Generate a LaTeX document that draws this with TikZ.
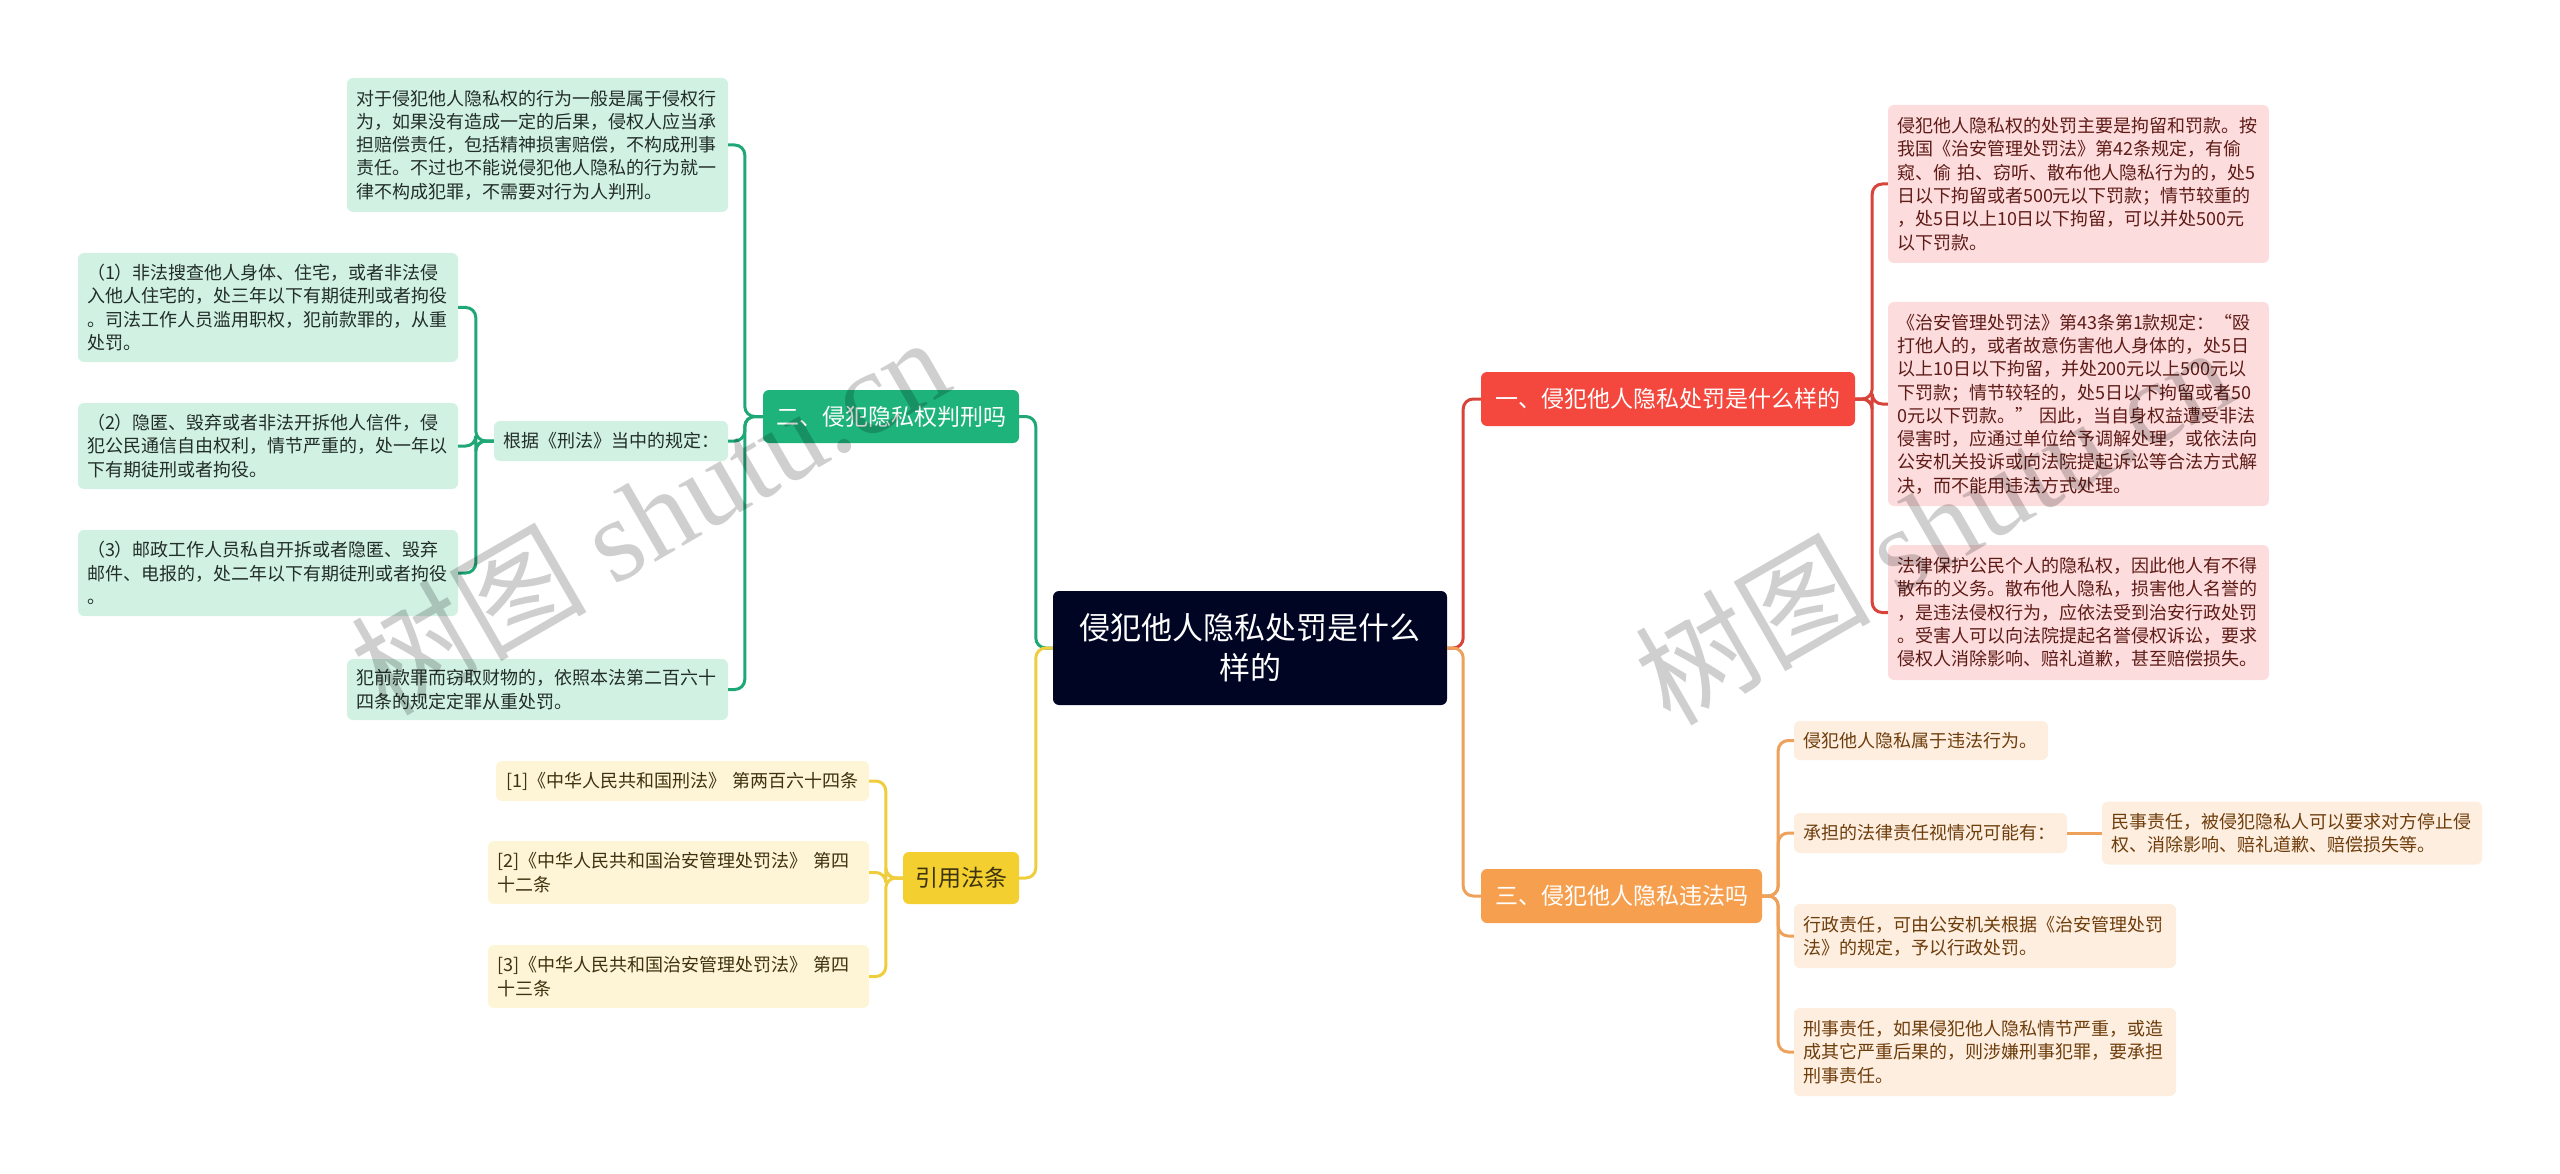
\documentclass[tikz,border=0pt]{standalone}
\usepackage{fontspec}
\setmainfont{Noto Sans CJK SC}
\newfontfamily\wmlatin{Liberation Serif}
\definecolor{navy}{HTML}{000524}
\definecolor{redB}{HTML}{F4473D}
\definecolor{redL}{HTML}{FCDCDC}
\definecolor{redT}{HTML}{5E1B17}
\definecolor{redLine}{HTML}{D8443A}
\definecolor{orB}{HTML}{F6A04F}
\definecolor{orL}{HTML}{FDEEDF}
\definecolor{orT}{HTML}{6E3D0C}
\definecolor{orLine}{HTML}{EDA15B}
\definecolor{grB}{HTML}{1DB37A}
\definecolor{grL}{HTML}{D1F1E3}
\definecolor{grT}{HTML}{222E28}
\definecolor{grLine}{HTML}{1FA876}
\definecolor{yeB}{HTML}{F3D02F}
\definecolor{yeL}{HTML}{FDF5D5}
\definecolor{yeT}{HTML}{3E3310}
\definecolor{yeLine}{HTML}{EFCD3C}
\tikzset{
  leaf/.style={rounded corners=6pt, inner xsep=9pt, inner ysep=3pt, align=left,
    font=\fontsize{18}{23.3}\selectfont, anchor=center},
  rleaf/.style={leaf, fill=redL, text=redT},
  oleaf/.style={leaf, fill=orL, text=orT},
  gleaf/.style={leaf, fill=grL, text=grT},
  yleaf/.style={leaf, fill=yeL, text=yeT},
  branch/.style={rounded corners=6pt, inner sep=0pt, align=center,
    font=\fontsize{23}{28}\selectfont, anchor=center},
  conn/.style={line width=3pt, rounded corners=10pt},
  wm/.style={text=black, opacity=0.19, rotate=30, anchor=center,
    font=\fontsize{118}{120}\selectfont}
}
\begin{document}
\begin{tikzpicture}[x=1pt, y=-1pt]
\useasboundingbox (0,0) rectangle (2560,1174);
% central
\node[rounded corners=6pt, fill=navy, text=white, align=center, inner sep=0pt,
  minimum width=394pt, minimum height=114pt,
  font=\fontsize{31}{40}\selectfont] (c) at (1250,648) {侵犯他人隐私处罚是什么\\样的};
% branches
\node[branch, fill=redB, text=white, minimum width=374pt, minimum height=54pt] (b1) at (1668,399) {一、侵犯他人隐私处罚是什么样的};
\node[branch, fill=orB, text=white, minimum width=281pt, minimum height=54pt] (b3) at (1621.5,896) {三、侵犯他人隐私违法吗};
\node[branch, fill=grB, text=white, minimum width=256pt, minimum height=53pt] (b2) at (891,416.5) {二、侵犯隐私权判刑吗};
\node[branch, fill=yeB, text=yeT, minimum width=116pt, minimum height=52pt] (b4) at (961,878) {引用法条};
% red leaves
\node[rleaf, text width=363pt, minimum height=158pt] (r1) at (2078.5,184) {侵犯他人隐私权的处罚主要是拘留和罚款。按\\我国《治安管理处罚法》第42条规定，有偷\\窥、偷 拍、窃听、散布他人隐私行为的，处5\\日以下拘留或者500元以下罚款；情节较重的\\，处5日以上10日以下拘留，可以并处500元\\以下罚款。};
\node[rleaf, text width=363pt, minimum height=204pt] (r2) at (2078.5,404) {《治安管理处罚法》第43条第1款规定：“殴\\打他人的，或者故意伤害他人身体的，处5日\\以上10日以下拘留，并处200元以上500元以\\下罚款；情节较轻的，处5日以下拘留或者50\\0元以下罚款。” 因此，当自身权益遭受非法\\侵害时，应通过单位给予调解处理，或依法向\\公安机关投诉或向法院提起诉讼等合法方式解\\决，而不能用违法方式处理。};
\node[rleaf, text width=363pt, minimum height=135pt] (r3) at (2078.5,612.5) {法律保护公民个人的隐私权，因此他人有不得\\散布的义务。散布他人隐私，损害他人名誉的\\，是违法侵权行为，应依法受到治安行政处罚\\。受害人可以向法院提起名誉侵权诉讼，要求\\侵权人消除影响、赔礼道歉，甚至赔偿损失。};
% orange leaves
\node[oleaf, text width=236pt, minimum height=39pt] (o1) at (1921,740.5) {侵犯他人隐私属于违法行为。};
\node[oleaf, text width=255pt, minimum height=40pt] (o2) at (1930.5,833) {承担的法律责任视情况可能有：};
\node[oleaf, text width=362pt, minimum height=63pt] (o2a) at (2292,833) {民事责任，被侵犯隐私人可以要求对方停止侵\\权、消除影响、赔礼道歉、赔偿损失等。};
\node[oleaf, text width=364pt, minimum height=64pt] (o3) at (1985,936) {行政责任，可由公安机关根据《治安管理处罚\\法》的规定，予以行政处罚。};
\node[oleaf, text width=364pt, minimum height=88pt] (o4) at (1985,1052) {刑事责任，如果侵犯他人隐私情节严重，或造\\成其它严重后果的，则涉嫌刑事犯罪，要承担\\刑事责任。};
% green leaves
\node[gleaf, text width=363pt, minimum height=134pt] (g1) at (537.5,145) {对于侵犯他人隐私权的行为一般是属于侵权行\\为，如果没有造成一定的后果，侵权人应当承\\担赔偿责任，包括精神损害赔偿，不构成刑事\\责任。不过也不能说侵犯他人隐私的行为就一\\律不构成犯罪，不需要对行为人判刑。};
\node[gleaf, text width=216pt, minimum height=40pt] (g2) at (611,441) {根据《刑法》当中的规定：};
\node[gleaf, text width=362pt, minimum height=109pt] (g2a) at (268,307.5) {（1）非法搜查他人身体、住宅，或者非法侵\\入他人住宅的，处三年以下有期徒刑或者拘役\\。司法工作人员滥用职权，犯前款罪的，从重\\处罚。};
\node[gleaf, text width=362pt, minimum height=86pt] (g2b) at (268,446) {（2）隐匿、毁弃或者非法开拆他人信件，侵\\犯公民通信自由权利，情节严重的，处一年以\\下有期徒刑或者拘役。};
\node[gleaf, text width=362pt, minimum height=86pt] (g2c) at (268,573) {（3）邮政工作人员私自开拆或者隐匿、毁弃\\邮件、电报的，处二年以下有期徒刑或者拘役\\。};
\node[gleaf, text width=363pt, minimum height=61pt] (g3) at (537.5,689.5) {犯前款罪而窃取财物的，依照本法第二百六十\\四条的规定定罪从重处罚。};
% yellow leaves
\node[yleaf, text width=353pt, minimum height=40pt, inner xsep=10pt] (y1) at (682.5,781) {[1]《中华人民共和国刑法》 第两百六十四条};
\node[yleaf, text width=363pt, minimum height=63pt] (y2) at (678.5,872.5) {[2]《中华人民共和国治安管理处罚法》 第四\\十二条};
\node[yleaf, text width=363pt, minimum height=63pt] (y3) at (678.5,976.5) {[3]《中华人民共和国治安管理处罚法》 第四\\十三条};
% connectors
\draw[conn, redLine] (c.east) -- ++(16,0) |- (b1.west);
\draw[conn, orLine] (c.east) -- ++(16,0) |- (b3.west);
\draw[conn, grLine] (c.west) -- ++(-17,0) |- (b2.east);
\draw[conn, yeLine] (c.west) -- ++(-17,0) |- (b4.east);
\foreach \t in {r1,r2,r3} \draw[conn, redLine] (b1.east) -- ++(17,0) |- (\t.west);
\foreach \t in {o1,o2,o3,o4} \draw[conn, orLine] (b3.east) -- ++(16,0) |- (\t.west);
\draw[conn, orLine] (o2.east) -- (o2a.west);
\foreach \t in {g1,g2,g3} \draw[conn, grLine] (b2.west) -- ++(-18,0) |- (\t.east);
\foreach \t in {g2a,g2b,g2c} \draw[conn, grLine] (g2.west) -- ++(-18,0) |- (\t.east);
\foreach \t in {y1,y2,y3} \draw[conn, yeLine] (b4.west) -- ++(-17,0) |- (\t.east);
% watermarks
\node[wm] (wm1) at (649,514) {树图 {\wmlatin shutu.cn}};
\node[wm] (wm2) at (1933,524) {树图 {\wmlatin shutu.cn}};
\end{tikzpicture}
\end{document}
